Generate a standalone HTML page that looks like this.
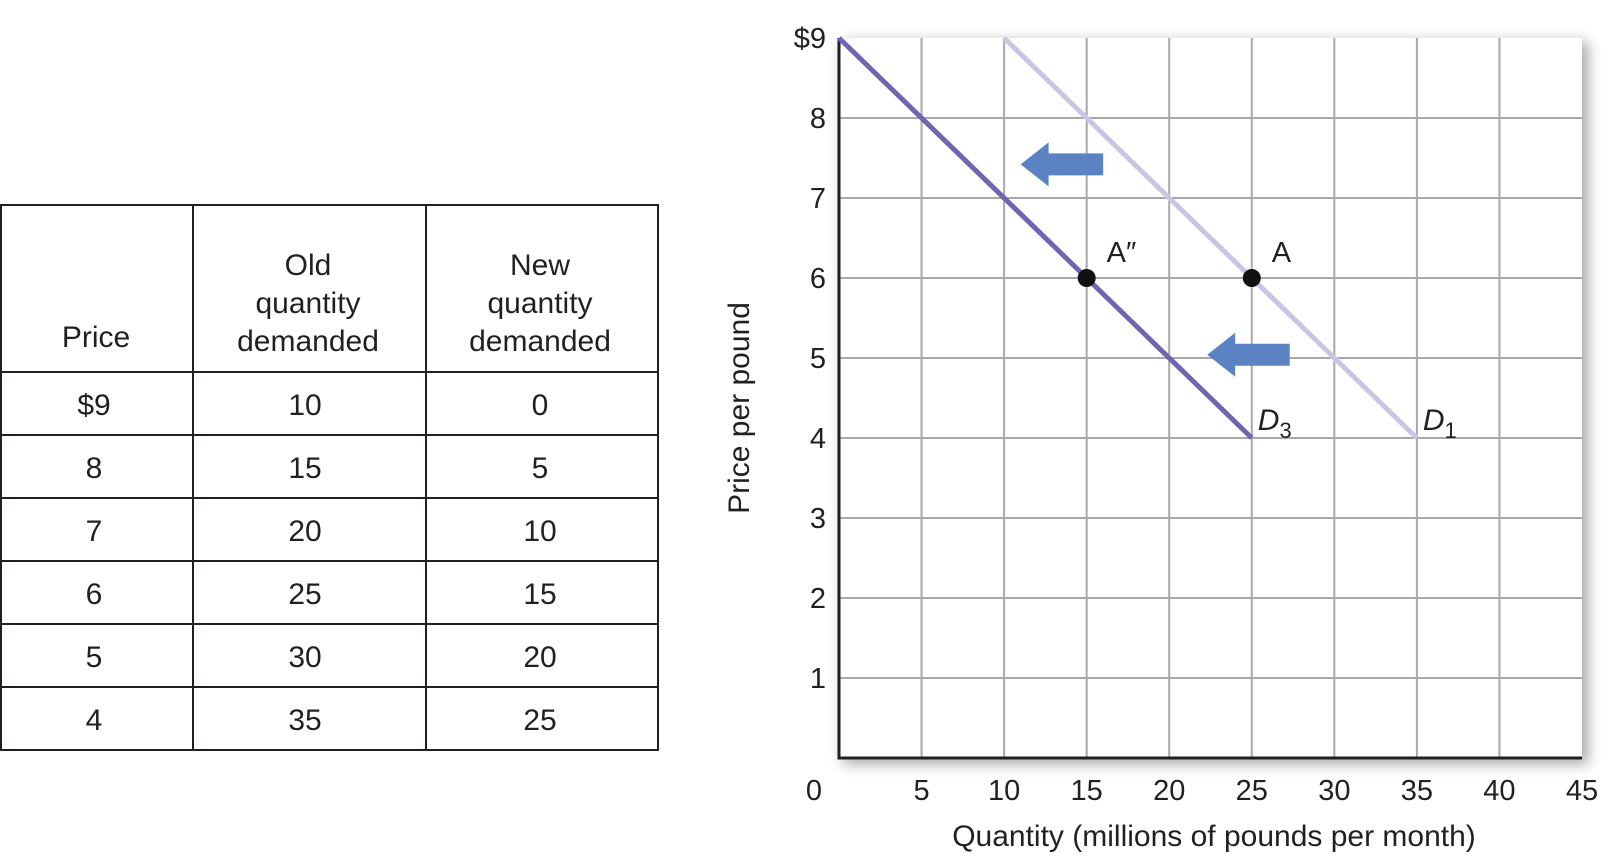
<!DOCTYPE html>
<html><head><meta charset="utf-8"><style>
body{margin:0;width:1620px;height:858px;background:#fff;overflow:hidden;font-family:"Liberation Sans",sans-serif;color:#231f20}
svg{position:absolute;left:0;top:0}
</style></head><body>
<svg width="1620" height="858">
<defs><filter id="sh" x="-10%" y="-10%" width="120%" height="120%"><feGaussianBlur stdDeviation="7"/></filter></defs>
<g id="table" font-size="30" text-anchor="middle" fill="#231f20"></g>
<rect x="843" y="42" width="745" height="722" fill="#000" opacity="0.35" filter="url(#sh)"/>
<rect x="839" y="38" width="743" height="720" fill="#fff"/>
<g id="grid"></g>
<g id="marks"></g>
<text x="749" y="408" transform="rotate(-90 749 408)" text-anchor="middle" font-size="30" fill="#231f20">Price per pound</text>
<text x="1214" y="846" text-anchor="middle" font-size="30" fill="#231f20">Quantity (millions of pounds per month)</text>
</svg>
<script>
const prices=["$9","8","7","6","5","4"];
const oldQty=["10","15","20","25","30","35"];
const newQty=["0","5","10","15","20","25"];
const xTicks=[0,5,10,15,20,25,30,35,40,45];
const yTicks=[1,2,3,4,5,6,7,8,9];
const d3Line=[[0,9],[25,4]];
const d1Line=[[10,9],[35,4]];
const points=[{q:15,p:6,l:"A″"},{q:25,p:6,l:"A"}];
const arrows=[[11,16,7.42],[22.3,27.3,5.04]];
const NS="http://www.w3.org/2000/svg";
const X=q=>839+q*743/45, Y=p=>758-p*80;
function mk(tag,attrs,parent,text){const el=document.createElementNS(NS,tag);for(const k in attrs)el.setAttribute(k,attrs[k]);if(text!==undefined)el.textContent=text;parent.appendChild(el);return el;}
// table
const tb=document.getElementById('table');
const tTop=205, hb=372, rh=63;
const tl=mk('rect',{x:1,y:tTop,width:657,height:hb+6*rh-tTop,fill:'none',stroke:'#231f20','stroke-width':2},tb);


[193,426].forEach(x=>{const l=mk('line',{x1:x,x2:x,y1:tTop,y2:hb+6*rh,stroke:'#231f20','stroke-width':2},tb);

});
for(let i=0;i<6;i++){const l=mk('line',{x1:0,x2:658,y1:hb+i*rh,y2:hb+i*rh,stroke:'#231f20','stroke-width':2},tb);

}
const hd=[[96,[["Price",347]]],[308,[["Old",275],["quantity",313],["demanded",351]]],[540,[["New",275],["quantity",313],["demanded",351]]]];
hd.forEach(([x,ls])=>ls.forEach(([t,y])=>{const h=mk('text',{x:x,y:y},tb,t);

}));
for(let i=0;i<6;i++){const y=hb+i*rh+43;[[94,prices[i]],[305,oldQty[i]],[540,newQty[i]]].forEach(([x,t])=>{const c=mk('text',{x:x,y:y},tb,t);

});}
// grid
const g=document.getElementById('grid');
xTicks.slice(1,-1).forEach(q=>{const l=mk('line',{x1:X(q),x2:X(q),y1:38,y2:758,stroke:'#a8a8a8','stroke-width':2},g);

});
yTicks.slice(0,-1).forEach(p=>{const l=mk('line',{x1:839,x2:1582,y1:Y(p),y2:Y(p),stroke:'#a8a8a8','stroke-width':2},g);

});
const ax=mk('path',{d:'M839 38V758H1582',fill:'none',stroke:'#231f20','stroke-width':3},g);


xTicks.forEach(q=>{const t=mk('text',{x:X(q)-(q===0?25:0),y:800,'text-anchor':'middle','font-size':29,fill:'#231f20'},g,String(q));

});
yTicks.forEach(p=>{const t=mk('text',{x:826,y:Y(p)+10,'text-anchor':'end','font-size':29,fill:'#231f20'},g,p===9?"$9":String(p));

});
// marks
const m=document.getElementById('marks');
const c1=mk('line',{x1:X(d1Line[0][0]),y1:Y(d1Line[0][1]),x2:X(d1Line[1][0]),y2:Y(d1Line[1][1]),stroke:'#c9c6e4','stroke-width':5},m);


const c3=mk('line',{x1:X(d3Line[0][0]),y1:Y(d3Line[0][1]),x2:X(d3Line[1][0]),y2:Y(d3Line[1][1]),stroke:'#6e66b0','stroke-width':5},m);


arrows.forEach(([a,b,p])=>{const x1=X(a),x2=X(b),y=Y(p);const ar=mk('path',{d:`M${x1} ${y}L${x1+28} ${y-22}V${y-11}H${x2}V${y+11}H${x1+28}V${y+22}Z`,fill:'#5b83c4'},m);

});
points.forEach(pt=>{const c=mk('circle',{cx:X(pt.q),cy:Y(pt.p),r:9,fill:'#111'},m);


const t=mk('text',{x:X(pt.q)+20,y:Y(pt.p)-16,'font-size':29,fill:'#231f20'},m,pt.l);

});
[[d3Line[1],"3"],[d1Line[1],"1"]].forEach(([pt,s])=>{const t=mk('text',{x:X(pt[0])+6,y:Y(pt[1])-8,'font-size':30,'font-style':'italic',fill:'#231f20'},m);


mk('tspan',{},t,"D");mk('tspan',{dy:8,'font-size':22,'font-style':'normal'},t,s);});
</script>
</body></html>
